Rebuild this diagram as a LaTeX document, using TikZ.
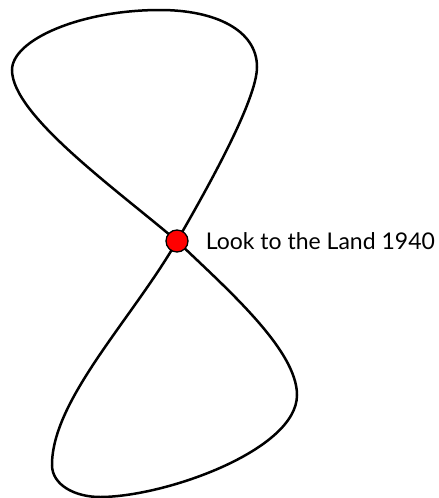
\documentclass[tikz,border=0pt]{standalone}
\usepackage{fontspec}
\setmainfont{Lato}
\usepackage{xcolor}
\usetikzlibrary{positioning}

\begin{document}
\begin{tikzpicture}[x=1pt, y=-1pt, every node/.style={font=\fontsize{23}{27}\selectfont}]
\useasboundingbox (0,0) rectangle (439,498);
\coordinate (cross) at (177,241);

% figure eight
\draw[line width=2.5pt] (cross)
  .. controls (116,189) and (12,115) .. (12,70)
  .. controls (12,40) and (80,10) .. (160,10)
  .. controls (215,10) and (257,30) .. (257,67)
  .. controls (257,100) and (207,189) .. (cross)
  .. controls (132,319) and (52,400) .. (52,465)
  .. controls (52,485) and (75,497) .. (100,497)
  .. controls (165,497) and (297,450) .. (297,395)
  .. controls (297,350) and (227,289) .. (cross);

\node[circle, draw, line width=1.3pt, fill=red, minimum size=22pt, inner sep=0pt] (dot) at (cross) {};
\node[right=17pt of dot, inner sep=0pt] (label) {Look to the Land 1940};
\end{tikzpicture}
\end{document}
